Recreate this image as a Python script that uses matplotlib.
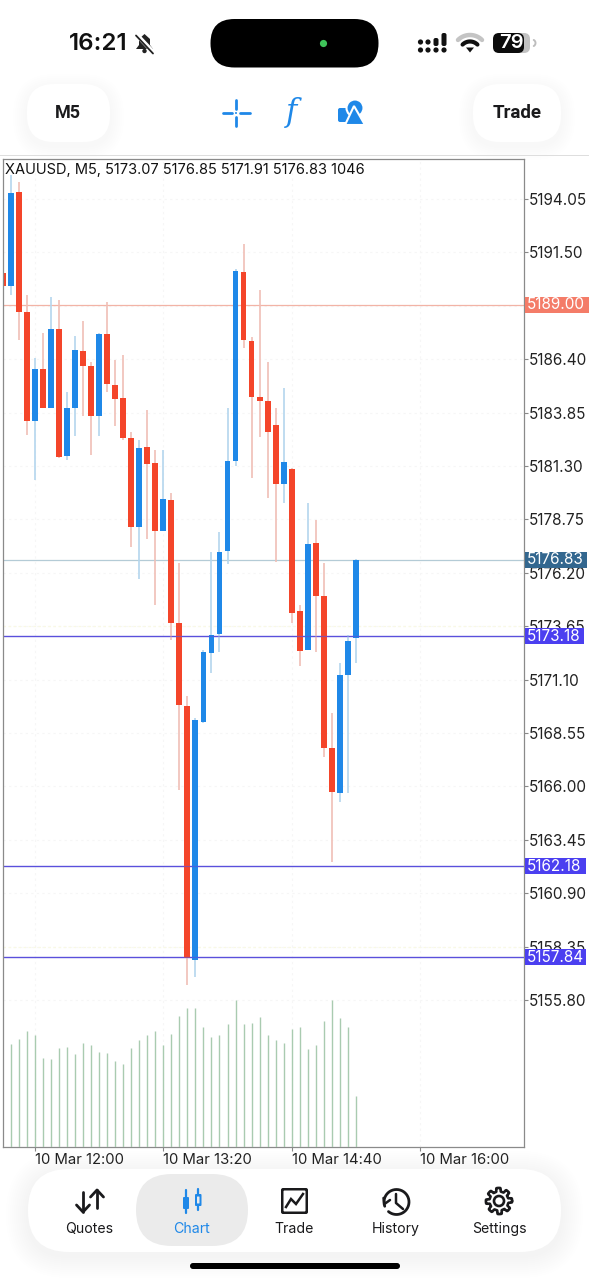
import matplotlib
matplotlib.use('Agg')
import matplotlib.pyplot as plt
import numpy as np
from matplotlib.patches import FancyBboxPatch, Rectangle, Circle, Polygon

# candles, 5 minute bars, index 4 is 10 Mar 12:00
opens = [5190.53, 5189.91, 5194.37, 5188.64, 5183.46, 5185.95, 5184.08, 5187.83, 5181.79, 5184.08,
         5186.81, 5186.09, 5183.69, 5187.60, 5185.17, 5184.53, 5182.62, 5178.40, 5182.19, 5181.43,
         5178.21, 5179.68, 5173.79, 5169.85, 5157.71, 5169.07, 5172.38, 5173.28, 5177.24, 5181.54,
         5190.58, 5187.28, 5184.58, 5184.40, 5183.26, 5180.46, 5181.14, 5174.37, 5172.51, 5177.61,
         5175.09, 5167.83, 5165.70, 5171.32, 5173.07]
highs = [5190.60, 5195.20, 5194.88, 5189.47, 5186.46, 5187.65, 5189.37, 5189.23, 5184.83, 5187.52,
         5188.24, 5186.28, 5187.65, 5189.15, 5186.36, 5186.60, 5182.94, 5182.54, 5183.97, 5182.06,
         5182.06, 5180.02, 5176.67, 5170.32, 5169.26, 5172.51, 5177.21, 5178.16, 5184.08, 5190.71,
         5191.90, 5187.47, 5189.70, 5186.28, 5184.07, 5185.02, 5181.20, 5174.66, 5179.53, 5178.72,
         5176.67, 5169.50, 5171.89, 5173.23, 5176.85]
lows = [5189.85, 5189.47, 5187.32, 5182.78, 5180.63, 5184.07, 5184.05, 5181.70, 5181.59, 5182.73,
        5183.69, 5181.82, 5182.73, 5184.83, 5183.22, 5182.54, 5177.45, 5175.90, 5177.81, 5174.66,
        5178.20, 5172.99, 5165.83, 5156.51, 5156.90, 5169.05, 5171.43, 5172.43, 5176.62, 5181.30,
        5186.93, 5180.73, 5182.70, 5179.77, 5176.73, 5179.51, 5173.79, 5171.75, 5172.49, 5172.43,
        5167.42, 5162.40, 5165.27, 5165.68, 5171.91]
closes = [5189.91, 5194.32, 5188.67, 5183.46, 5185.92, 5184.08, 5187.83, 5181.74, 5184.05, 5186.84,
          5186.09, 5183.69, 5187.60, 5185.23, 5184.51, 5182.62, 5178.40, 5182.17, 5181.39, 5178.21,
          5179.72, 5173.79, 5169.89, 5157.80, 5169.17, 5172.40, 5173.23, 5177.19, 5181.54, 5190.63,
          5187.32, 5184.61, 5184.40, 5182.92, 5180.44, 5181.51, 5174.27, 5172.48, 5177.59, 5175.11,
          5167.85, 5165.75, 5171.30, 5172.94, 5176.83]
# first candle's volume is hidden behind the frame
volumes = [2126, 2222, 2394, 2312, 1844, 1816, 2036, 2057, 1926, 2147, 2098, 1954, 1933, 1768, 1720,
           2043, 2215, 2319, 2387, 2105, 2339, 2711, 2876, 2876, 2477, 2270, 2319, 2539, 3041, 2539,
           2559, 2676, 2312, 2202, 2140, 2436, 2477, 2030, 2112, 2594, 3041, 2669, 2477, 1046]

# 5188.95 sits fully behind the 5189.00 flag, so its label stays empty
price_ticks = [5194.05, 5191.50, 5188.95, 5186.40, 5183.85, 5181.30, 5178.75, 5176.20,
               5173.65, 5171.10, 5168.55, 5166.00, 5163.45, 5160.90, 5158.35, 5155.80]
price_labels = ['5194.05', '5191.50', '', '5186.40', '5183.85', '5181.30', '5178.75', '5176.20',
                '5173.65', '5171.10', '5168.55', '5166.00', '5163.45', '5160.90', '5158.35', '5155.80']
time_index = [4, 20, 36, 52]
time_labels = ['10 Mar 12:00', '10 Mar 13:20', '10 Mar 14:40', '10 Mar 16:00']

level_prices = [5189.00, 5176.83, 5173.18, 5162.18, 5157.84]
level_labels = ['5189.00', '5176.83', '5173.18', '5162.18', '5157.84']
level_line = ['#f2b3a6', '#b4cbd6', '#5a50dc', '#5a50dc', '#5a50dc']
level_flag = ['#f47c68', '#33678f', '#4b3ff0', '#4b3ff0', '#4b3ff0']
level_right = [64, 62, 59.5, 61.5, 61.5]
tinted_grid = [5173.65, 5158.35]

tabs = ['Quotes', 'Chart', 'Trade', 'History', 'Settings']
tab_x = [89, 192, 294, 396, 499]

BLUE = '#1f88e8'
RED = '#f4452a'
INK = '#1a1a1c'
FONT = 'Inter'

fig = plt.figure(figsize=(5.89, 12.8), dpi=100, facecolor='white')

# ---- phone chrome, drawn in pixel coordinates
ui = fig.add_axes([0, 0, 1, 1], zorder=0)
ui.set_xlim(0, 589)
ui.set_ylim(1280, 0)
ui.axis('off')


def rbox(x0, y0, x1, y1, r, color, z=1, **kw):
    b = FancyBboxPatch((x0 + r, y0 + r), x1 - x0 - 2 * r, y1 - y0 - 2 * r,
                       boxstyle='round,pad=%g,rounding_size=%g' % (r, r),
                       fc=color, ec='none', zorder=z, **kw)
    ui.add_patch(b)


def shadow_box(x0, y0, x1, y1, r, spread=14, strength=0.004):
    for k in range(spread, 0, -2):
        rbox(x0 - k, y0 - k + 4, x1 + k, y1 + k + 4, r + k, 'black', z=1, alpha=strength)
    rbox(x0, y0, x1, y1, r, 'white', z=2)


def line(xs, ys, color=INK, lw=2.0, z=5, cap='round'):
    ui.plot(xs, ys, color=color, lw=lw, zorder=z, solid_capstyle=cap, solid_joinstyle='round')


def arc(cx, cy, r, a0, a1, color=INK, lw=2.0, z=5, cap='round'):
    t = np.radians(np.linspace(a0, a1, 40))
    line(cx + r * np.cos(t), cy - r * np.sin(t), color, lw, z, cap)


# status bar
ui.text(98.5, 43.5, '16:21', ha='center', va='center', fontsize=17.4, color='#111111', family=FONT, weight='semibold')
ui.add_patch(Polygon([[136, 49], [139, 45], [139, 39], [144.5, 34], [150, 39], [150, 45], [153, 49]], fc='#222222', ec='none', zorder=5))
ui.add_patch(Circle((144.5, 51), 2.2, fc='#222222', ec='none', zorder=5))
line([136, 153], [34, 52], 'white', 3.2, z=6)
line([136, 153], [35.5, 53.5], '#222222', 1.3, z=7)
rbox(210.5, 19, 378.5, 67.5, 24, 'black', z=5)
ui.add_patch(Circle((323.5, 43.5), 3.6, fc='#3fc45a', ec='none', zorder=6))
for sx in [420.5, 428, 436, 444]:
    ui.add_patch(Circle((sx, 50), 2.6, fc='#111111', ec='none', zorder=5))
for sx in [420.5, 428]:
    ui.add_patch(Circle((sx, 42), 2.6, fc='#111111', ec='none', zorder=5))
rbox(433.5, 38, 438.5, 46, 2, '#111111', z=5)
rbox(441.5, 33, 446.5, 46, 2, '#111111', z=5)
arc(470, 52, 17, 45, 135, '#c4c4c4', 3.2)
arc(470, 52, 10.5, 45, 135, '#111111', 3.0)
ui.add_patch(Polygon([[466, 47.5], [474, 47.5], [470, 52.5]], fc='#111111', ec='none', zorder=5))
rbox(510, 33, 530, 53, 6, '#c2c2c2', z=4)
rbox(493, 33, 524, 53, 6, '#0c0c0c', z=5)
arc(532, 43, 3.5, -60, 60, '#bdbdbd', 1.4)
ui.text(511, 43.5, '79', ha='center', va='center', fontsize=14.5, color='white', family=FONT, weight='semibold', zorder=6)

# toolbar
shadow_box(27, 84, 110, 142, 27)
shadow_box(473, 84, 561, 142, 27)
ui.text(68, 113, 'M5', ha='center', va='center', fontsize=13, color=INK, weight='bold', family='Roboto', zorder=5)
ui.text(517, 113, 'Trade', ha='center', va='center', fontsize=13.5, color=INK, weight='bold', family='Roboto', zorder=5)
for xs, ys in [([223, 232], [113, 113]), ([240, 250], [113, 113]), ([236, 236], [100, 109]), ([236, 236], [117, 126])]:
    line(xs, ys, BLUE, 2.0)
ui.add_patch(Circle((236, 113), 1.0, fc=BLUE, ec='none', zorder=5))
ui.text(292, 113, 'f', ha='center', va='center', fontsize=22, color=BLUE, style='italic', family='DejaVu Serif', zorder=5)
rbox(338, 108, 353, 122, 2, BLUE, z=5)
ui.add_patch(Circle((355, 108), 8.5, fc=BLUE, ec='white', lw=1.5, zorder=6))
ui.add_patch(Polygon([[354, 106], [345, 125], [365, 125]], fc=BLUE, ec='white', lw=1.5, zorder=7))
ui.add_patch(Rectangle((0, 155), 589, 1, fc='#dedede', ec='none', zorder=3))

# tab bar
shadow_box(28, 1169, 561, 1252, 41, spread=22, strength=0.003)
rbox(136, 1174, 248, 1246, 36, '#ebebeb', z=3)
for name, tx in zip(tabs, tab_x):
    ui.text(tx, 1229, name, ha='center', va='center', fontsize=10.2, family=FONT,
            color=BLUE if name == 'Chart' else INK, zorder=5)
rbox(190, 1263, 400, 1269, 3, 'black', z=5)

# quotes arrows
line([83, 83], [1192, 1212])
line([76.5, 83, 89.5], [1205, 1212, 1205])
line([97, 97], [1190, 1208])
line([90.5, 97, 103.5], [1197, 1190, 1197])
# chart icon
line([186, 186], [1190, 1213], BLUE, 1.6)
rbox(183, 1197, 189, 1209, 1, BLUE, z=5)
line([198, 198], [1189, 1210], BLUE, 1.6)
rbox(195, 1194, 201.5, 1206, 1, BLUE, z=5)
rbox(197, 1196.5, 199.5, 1203.5, 0.5, '#ebebeb', z=6)
# trade icon
rbox(281, 1188, 308, 1214, 2, INK, z=5)
rbox(283.5, 1190.5, 305.5, 1211.5, 1, 'white', z=6)
ui.plot([286, 291, 296, 303], [1207, 1199, 1204, 1194], color=INK, lw=1.8, zorder=7, solid_joinstyle='miter')
# history icon
arc(396.5, 1202, 12.5, 200, -130, INK, 2.0)
line([383.5, 384.5, 390], [1198, 1204, 1200], INK, 1.8)
line([396, 396, 403], [1194, 1203, 1209], INK, 1.8)
# settings gear
t = np.radians(np.arange(0, 361, 2))
gear_r = 11.3 + 1.8 * np.tanh(5 * np.cos(8 * t + np.pi / 8))
line(499 + gear_r * np.cos(t), 1201 + gear_r * np.sin(t), INK, 1.9)
ui.add_patch(Circle((499, 1201), 5, fc='none', ec=INK, lw=1.9, zorder=5))

# ---- chart
px_per_price = 20.94
frame_top, frame_bottom, frame_left, frame_right = 158.5, 1147.0, 2.5, 523.5
ax = fig.add_axes([frame_left / 589, 1 - frame_bottom / 1280, (frame_right - frame_left) / 589, (frame_bottom - frame_top) / 1280], zorder=2)
x = np.arange(len(closes))
ax.set_xlim((frame_left - 2.67) / 8.03, (frame_right - 2.67) / 8.03)
ax.set_ylim(5194.05 - (frame_bottom - 199) / px_per_price, 5194.05 + (199 - frame_top) / px_per_price)

# volume sits on the same x positions
vol = ax.twinx()
vol.set_ylim(0, 20.64 * (frame_bottom - frame_top))
vol.set_yticks([])
vol.patch.set_visible(False)
for s in vol.spines.values():
    s.set_visible(False)
vol.vlines(x[1:], 0, volumes, colors='#a9cbb0', lw=1.0)

# twinx moves the ticks, so set them after it
ax.yaxis.tick_right()
ax.set_yticks(price_ticks)
ax.set_yticklabels(price_labels)
ax.tick_params(axis='y', length=3, width=0.8, color='#888888', pad=0.5, labelsize=11, labelcolor='#222222')
ax.set_xticks(time_index)
ax.set_xticklabels(time_labels, ha='left')
ax.tick_params(axis='x', length=3, width=0.8, color='#888888', pad=1.5, labelsize=10.7, labelcolor='#222222')
for lab in ax.get_xticklabels() + ax.get_yticklabels():
    lab.set_family(FONT)
ax.grid(True, color='#f6f6f6', lw=0.8, ls=(0, (2, 3)))
ax.set_axisbelow(True)
for s in ax.spines.values():
    s.set_color('#8a8a8a')
    s.set_linewidth(0.9)

for p in tinted_grid:
    ax.axhline(p, color='#f9f9e4', lw=0.9, ls=(0, (2, 2)), zorder=1.6)
for p, c in zip(level_prices, level_line):
    ax.axhline(p, color=c, lw=0.9, zorder=1.8)

up = [c >= o for o, c in zip(opens, closes)]
wick_cols = ['#b4d6ee' if u else '#f0bfb6' for u in up]
body_cols = [BLUE if u else RED for u in up]
ax.vlines(x, lows, highs, colors=wick_cols, lw=1.2, zorder=2)
bottoms = np.minimum(opens, closes)
heights = np.abs(np.array(closes) - np.array(opens))
ax.bar(x, heights, bottom=bottoms, width=0.72, color=body_cols, zorder=2.2)
# the level lines run over the bodies
for p, c in zip(level_prices[2:], level_line[2:]):
    ax.axhline(p, color=c, lw=0.9, alpha=0.6, zorder=2.4)

ax.text(0.005, 0.9885, 'XAUUSD, M5, %.2f %.2f %.2f %.2f %d' % (opens[-1], highs[-1], lows[-1], closes[-1], volumes[-1]),
        transform=ax.transAxes, ha='left', va='center', fontsize=10.5, family=FONT, color='#111111', zorder=6)

trans = ax.get_yaxis_transform()
ax_w = frame_right - frame_left
for p, lab, c, w in zip(level_prices, level_labels, level_flag, level_right):
    ax.add_patch(Rectangle((1.002, p - 8 / px_per_price), w / ax_w, 16 / px_per_price, transform=trans,
                           fc=c, ec='none', clip_on=False, zorder=5))
    ax.text(1.002 + 2 / ax_w, p, lab, transform=trans, ha='left', va='center', fontsize=11, family=FONT,
            color='white', zorder=6, clip_on=False)

fig.savefig('out.png', dpi=100)
